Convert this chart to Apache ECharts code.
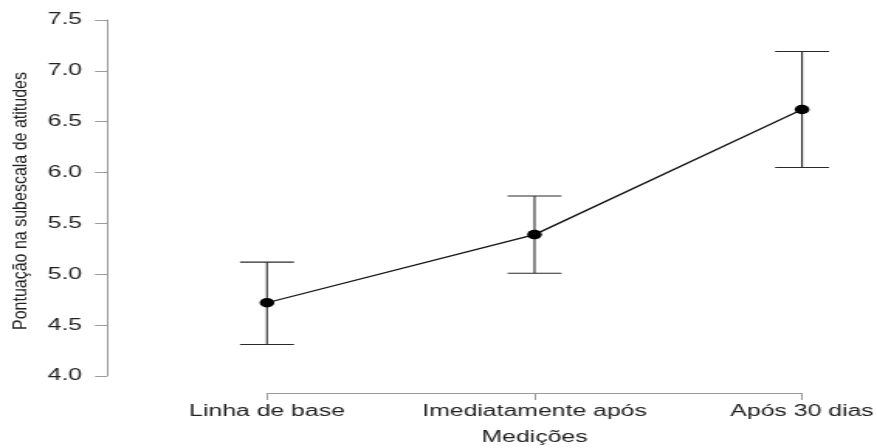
<!DOCTYPE html>
<html>
<head>
<meta charset="utf-8">
<script src="https://cdn.jsdelivr.net/npm/echarts@6/dist/echarts.min.js"></script>
<style>
html,body{margin:0;padding:0;background:#fff;overflow:hidden;}
#wrap{width:877px;height:448px;overflow:hidden;}
#chart{width:566px;height:448px;transform:scaleX(1.5495);transform-origin:0 0;}
</style>
</head>
<body>
<div id="wrap"><div id="chart"></div></div>
<script>
// ---- data ----
const categories = ['Linha de base', 'Imediatamente após', 'Após 30 dias'];
const means = [4.72, 5.39, 6.62];
const lower = [4.31, 5.01, 6.05];
const upper = [5.12, 5.77, 7.19];
const yTicks = [4.0, 4.5, 5.0, 5.5, 6.0, 6.5, 7.0, 7.5];
const xTitle = 'Medições';
const yTitle = 'Pontuação na subescala de atitudes';

// ---- layout (chart is drawn in a 566px-wide box stretched horizontally) ----
const S = 1.5495;
const FONT = 'Liberation Sans, Arial, sans-serif';
const chart = echarts.init(document.getElementById('chart'), null, {renderer: 'canvas'});

const errData = categories.map((c, i) => [i, lower[i], upper[i]]);

const option = {
  animation: false,
  backgroundColor: '#fff',
  grid: {left: 172.3, right: 48.4, top: 20, bottom: 72, containLabel: false, outerBoundsMode: 'none'},
  xAxis: {
    type: 'category',
    data: categories,
    boundaryGap: false,
    offset: 17,
    axisLine: {show: true, lineStyle: {color: '#9a9a9a', width: 1}},
    axisTick: {show: true, length: 7, alignWithLabel: true, interval: 0, lineStyle: {color: '#9a9a9a'}},
    axisLabel: {fontFamily: FONT, fontSize: 16, color: '#222', margin: 11, interval: 0, hideOverlap: false},
    splitLine: {show: false},
    name: xTitle,
    nameLocation: 'middle',
    nameGap: 37,
    nameTextStyle: {fontFamily: FONT, fontSize: 16, color: '#222'}
  },
  yAxis: {
    type: 'value',
    min: yTicks[0],
    max: yTicks[yTicks.length - 1],
    interval: 0.5,
    offset: 103.3,
    axisLine: {show: true, lineStyle: {color: '#9a9a9a', width: 1}},
    axisTick: {show: true, length: 7.7, lineStyle: {color: '#9a9a9a'}},
    axisLabel: {fontFamily: FONT, fontSize: 16, color: '#222', margin: 16,
      formatter: v => v.toFixed(1)},
    splitLine: {show: false}
  },
  graphic: [{
    type: 'text',
    x: 13.6,
    y: 201,
    rotation: Math.PI / 2,
    scaleY: 1.2 / S,
    style: {text: yTitle, fontFamily: FONT, fontSize: 16, fill: '#222',
      align: 'center', verticalAlign: 'middle'}
  }],
  series: [
    {
      type: 'custom',
      z: 2,
      data: errData,
      renderItem: function (params, api) {
        const i = api.value(0);
        const lo = api.coord([i, api.value(1)]);
        const hi = api.coord([i, api.value(2)]);
        const hw = 17.4;
        const st = {stroke: '#2a2a2a', lineWidth: 1.1};
        return {
          type: 'group',
          children: [
            {type: 'line', shape: {x1: lo[0], y1: lo[1], x2: hi[0], y2: hi[1]}, style: st},
            {type: 'line', shape: {x1: lo[0] - hw, y1: lo[1], x2: lo[0] + hw, y2: lo[1]}, style: st},
            {type: 'line', shape: {x1: hi[0] - hw, y1: hi[1], x2: hi[0] + hw, y2: hi[1]}, style: st}
          ]
        };
      }
    },
    {
      type: 'line',
      z: 3,
      data: means,
      symbol: 'circle',
      symbolSize: 9.5,
      itemStyle: {color: '#000'},
      lineStyle: {color: '#111', width: 1.3}
    }
  ]
};
chart.setOption(option);
</script>
</body>
</html>
